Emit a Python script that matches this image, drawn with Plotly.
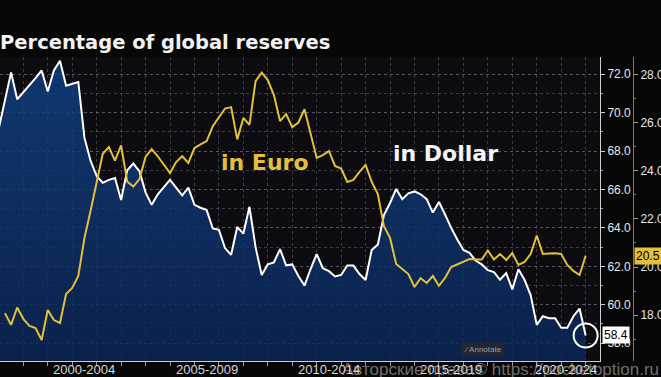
import plotly.graph_objects as go

# ---------------- data ----------------
first_quarter_dollar = "1998Q4"
first_quarter_euro = "1999Q1"

dollar_share = [
    69.2, 70.6, 72.1, 70.7, 71.05, 71.4, 71.8, 72.2, 71.1, 72.2,
    72.7, 71.4, 71.5, 71.6, 68.7, 67.5, 66.7, 66.35, 66.5, 66.6,
    65.45, 67.0, 67.35, 66.95, 65.85, 65.2, 65.75, 66.1, 66.5, 66.1,
    65.7, 66.1, 65.2, 65.05, 64.93, 63.97, 63.9, 62.95, 62.6, 64.05,
    63.7, 65.1, 63.0, 61.55, 62.1, 62.2, 62.9, 62.05, 62.1, 61.5,
    61.0, 61.86, 62.64, 61.9, 61.75, 61.47, 61.55, 62.04, 62.04, 61.6,
    61.29, 62.85, 63.13, 64.67, 65.3, 66.03, 65.5, 65.8, 65.9, 65.75,
    65.5, 64.8, 65.35, 64.7, 64.0, 63.4, 62.85, 62.7, 62.3, 62.1,
    61.8, 61.7, 61.3, 61.65, 60.8, 61.85, 61.3, 60.5, 58.95, 59.4,
    59.3, 59.3, 58.8, 58.8, 59.4, 59.8, 58.4,
]

euro_share = [
    18.08, 17.6, 18.32, 17.85, 17.56, 17.47, 16.97, 18.22, 17.8, 17.68,
    18.88, 19.13, 19.63, 21.2, 22.33, 23.53, 24.7, 24.98, 24.42, 25.05,
    23.55, 23.34, 23.65, 24.57, 24.9, 24.6, 24.24, 23.9, 24.36, 24.6,
    24.32, 24.94, 25.09, 25.23, 25.85, 26.19, 26.58, 26.64, 25.3, 26.19,
    25.9, 27.72, 28.07, 27.76, 27.14, 26.06, 26.35, 25.81, 26.0, 26.55,
    25.56, 24.53, 24.65, 24.82, 24.2, 24.09, 23.53, 23.62, 23.95, 24.24,
    23.54, 23.03, 21.7, 21.21, 20.13, 19.92, 19.71, 19.17, 19.54, 19.34,
    19.63, 19.22, 19.55, 20.0, 20.1, 20.21, 20.33, 20.31, 20.31, 20.69,
    20.31, 20.54, 20.29, 20.58, 20.09, 20.21, 20.54, 21.31, 20.54, 20.56,
    20.57, 20.54, 20.09, 19.84, 19.67, 20.47,
]

period_labels = ["2000-2004", "2005-2009", "2010-2014", "2015-2019", "2020-2024"]
period_centers = [2002.5, 2007.5, 2012.5, 2017.5, 2022.2]

dollar_ticks = [58, 60, 62, 64, 66, 68, 70, 72]
euro_ticks = [18, 20, 22, 24, 26, 28]


def quarter_end_years(start, n):
    y, q = int(start[:4]), int(start[-1])
    out = []
    for _ in range(n):
        out.append(y + q / 4.0)
        q += 1
        if q > 4:
            q = 1
            y += 1
    return out


x_dollar = quarter_end_years(first_quarter_dollar, len(dollar_share))
x_euro = quarter_end_years(first_quarter_euro, len(euro_share))

W, H = 661, 377
PLOT_RIGHT = 600
Y2_POS = 633

GRID = "rgba(120,120,135,0.45)"
YELLOW = "#e3bf3a"
LABEL_FONT = "Liberation Sans, Arial, sans-serif"
BOLD_FONT = "DejaVu Sans, Verdana, sans-serif"

fig = go.Figure()

fig.add_trace(go.Scatter(
    x=x_dollar, y=dollar_share, mode="lines", name="in Dollar",
    line=dict(color="#ffffff", width=2),
    fill="tozeroy",
    fillgradient=dict(
        type="vertical",
        colorscale=[[0, "rgba(10,38,88,0.82)"], [1, "rgba(16,66,132,0.82)"]],
        start=57.07, stop=72.9,
    ),
    yaxis="y", hoverinfo="skip",
))

fig.add_trace(go.Scatter(
    x=x_euro, y=euro_share, mode="lines", name="in Euro",
    line=dict(color=YELLOW, width=2),
    yaxis="y2", hoverinfo="skip",
))

fig.update_layout(
    width=W, height=H,
    margin=dict(l=0, r=0, t=57, b=16, pad=0),
    paper_bgcolor="#070707",
    plot_bgcolor="#0c0c11",
    showlegend=False,
    title=dict(
        text="<b>Percentage of global reserves</b>",
        x=0.0, xanchor="left", xref="paper",
        y=1 - 42 / H, yanchor="middle", yref="container",
        font=dict(family=BOLD_FONT, size=19.5, color="#f2f2f2"),
    ),
    xaxis=dict(
        domain=[0, PLOT_RIGHT / W],
        range=[1999.047, 2023.587],
        showticklabels=False, tickvals=[],
        ticks="", showgrid=False, zeroline=False,
        showline=True, linecolor="#cfcfcf", linewidth=1,
        minor=dict(dtick=1, tick0=2000, showgrid=True, gridcolor=GRID,
                   griddash="dot", gridwidth=1, ticks="outside", ticklen=4,
                   tickcolor="#9a9a9a"),
        automargin=False, fixedrange=True,
    ),
    yaxis=dict(
        range=[57.07, 72.9], side="right", anchor="x",
        tickmode="array", tickvals=dollar_ticks, tickformat=".1f",
        ticks="outside", ticklen=4, tickcolor="#d0d0d0",
        showline=True, linecolor="#d0d0d0", linewidth=1,
        showgrid=True, gridcolor=GRID, griddash="dot", gridwidth=1,
        zeroline=False,
        tickfont=dict(family=LABEL_FONT, size=12, color="#e6e6e6"),
        minor=dict(dtick=1, tick0=58, showgrid=True, gridcolor=GRID,
                   griddash="dot", gridwidth=1, ticks="outside", ticklen=2,
                   tickcolor="#a0a0a0"),
        automargin=False, fixedrange=True,
    ),
    yaxis2=dict(
        range=[16.1, 28.72], side="right", overlaying="y", anchor="free",
        position=Y2_POS / W,
        tickmode="array", tickvals=euro_ticks, tickformat=".1f",
        ticks="outside", ticklen=4, tickcolor="#b8a060",
        showline=True, linecolor="#8a7a50", linewidth=1,
        showgrid=False, zeroline=False,
        tickfont=dict(family=LABEL_FONT, size=12, color="#e6e6e6"),
        minor=dict(dtick=1, tick0=18, ticks="outside", ticklen=2,
                   tickcolor="#8a7a50"),
        automargin=False, fixedrange=True,
    ),
)

# period labels under the x axis
for lab, xc in zip(period_labels, period_centers):
    fig.add_annotation(
        text=lab, x=xc, y=0, xref="x", yref="paper", yshift=-8,
        xanchor="center", yanchor="middle", showarrow=False,
        font=dict(family=LABEL_FONT, size=13, color="#d8d8d8"),
    )

# series labels
fig.add_annotation(
    text="<b>in Euro</b>", x=2009.9, y=24.32, xref="x", yref="y2",
    showarrow=False, xanchor="center", yanchor="middle",
    font=dict(family=BOLD_FONT, size=22, color=YELLOW),
)
fig.add_annotation(
    text="<b>in Dollar</b>", x=2017.25, y=67.85, xref="x", yref="y",
    showarrow=False, xanchor="center", yanchor="middle",
    font=dict(family=BOLD_FONT, size=22, color="#f4f4f4"),
)

# last value tags
fig.add_annotation(
    text="58.4", xref="paper", yref="y", x=(PLOT_RIGHT + 2) / W, y=dollar_share[-1],
    xanchor="left", yanchor="middle", showarrow=False,
    bgcolor="#ffffff", borderpad=1,
    font=dict(family=LABEL_FONT, size=12, color="#000000"),
)
fig.add_annotation(
    text="20.5", xref="paper", yref="y2", x=(Y2_POS + 1) / W, y=euro_share[-1],
    xanchor="left", yanchor="middle", showarrow=False,
    bgcolor=YELLOW, borderpad=1,
    font=dict(family=LABEL_FONT, size=12, color="#000000"),
)

# circle on the last dollar point
fig.add_shape(
    type="circle", xref="x", yref="y",
    xsizemode="pixel", ysizemode="pixel",
    xanchor=x_dollar[-1], yanchor=dollar_share[-1],
    x0=-12, x1=12, y0=-12, y1=12,
    line=dict(color="#ffffff", width=2),
)

# "Annotate" button
fig.add_annotation(
    text="⁄ Annotate", xref="paper", yref="paper", x=483 / W, y=0, yshift=12,
    xanchor="center", yanchor="middle", showarrow=False,
    bgcolor="rgba(40,40,48,0.85)", borderpad=2,
    font=dict(family=LABEL_FONT, size=8, color="#9a9aa4"),
)

# watermark
fig.add_annotation(
    text="Авторские права© https://pocketoption.ru", xref="paper", yref="paper",
    x=1, y=0, yshift=-8, xanchor="right", yanchor="middle", showarrow=False,
    font=dict(family=LABEL_FONT, size=17, color="rgba(200,200,205,0.55)"),
)

fig.write_html(
    "out.html",
    config={"displayModeBar": False, "staticPlot": True},
    post_script="document.body.style.margin='0';document.body.style.overflow='hidden';"
                "document.body.style.background='#070707';",
)
